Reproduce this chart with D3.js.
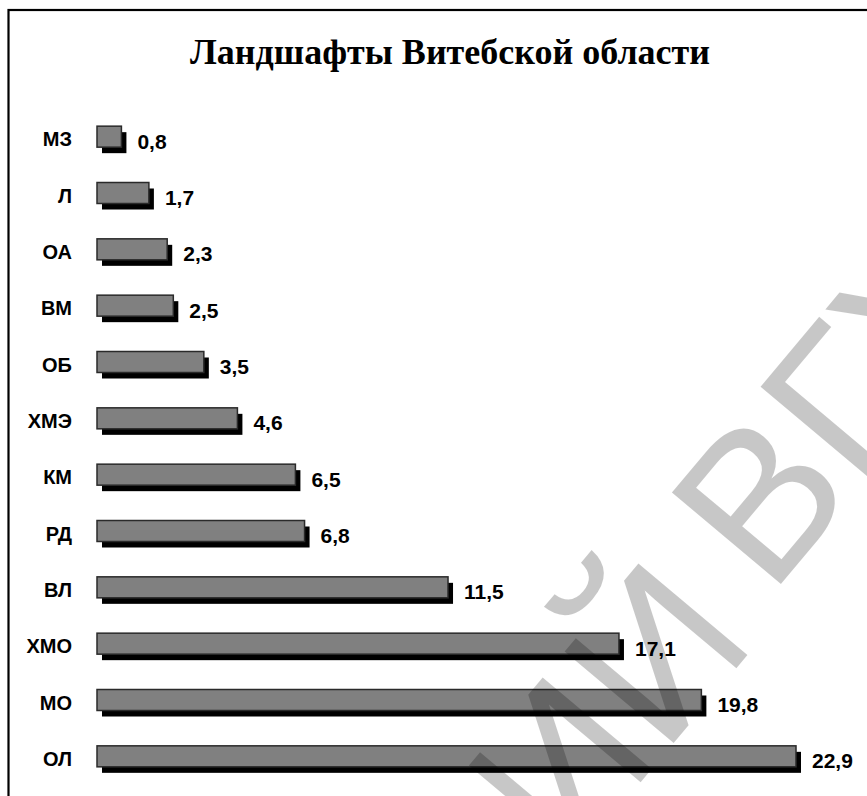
<!DOCTYPE html>
<html>
<head>
<meta charset="utf-8">
<script src="https://cdn.jsdelivr.net/npm/d3@7"></script>
<style>
  body { margin: 0; background: #fff; }
  svg { display: block; }
</style>
</head>
<body>
<script>
// landscape types, top to bottom
const categories = ["МЗ", "Л", "ОА", "ВМ", "ОБ", "ХМЭ", "КМ", "РД", "ВЛ", "ХМО", "МО", "ОЛ"];
const values = [0.8, 1.7, 2.3, 2.5, 3.5, 4.6, 6.5, 6.8, 11.5, 17.1, 19.8, 22.9];
const valueLabels = ["0,8", "1,7", "2,3", "2,5", "3,5", "4,6", "6,5", "6,8", "11,5", "17,1", "19,8", "22,9"];

const width = 867, height = 796;
const shadowDx = 5, shadowDy = 6;

const svg = d3.select("body").append("svg")
    .attr("width", width)
    .attr("height", height);

// frame (only left and top edges fall inside the picture)
svg.append("rect")
    .attr("x", 8.5).attr("y", 10)
    .attr("width", 900).attr("height", 900)
    .attr("fill", "none")
    .attr("stroke", "#000")
    .attr("stroke-width", 2.2);

svg.append("text")
    .attr("x", 450)
    .attr("y", 64)
    .attr("text-anchor", "middle")
    .style("font-family", "'Liberation Serif', 'Times New Roman', serif")
    .style("font-weight", "bold")
    .style("font-size", "36px")
    .text("Ландшафты Витебской области");

const x = d3.scaleLinear().domain([0, 22.9]).range([97, 796]);
const y = d3.scaleBand().domain(categories).range([111, 787]);
const barH = 21;

const rows = svg.selectAll(".row")
    .data(categories.map((c, i) => ({ cat: c, value: values[i], label: valueLabels[i] })))
  .enter().append("g")
    .attr("class", "row")
    .attr("transform", d => "translate(0," + (y(d.cat) + y.bandwidth() / 2) + ")");

// shadow
rows.append("rect")
    .attr("x", x(0) + shadowDx)
    .attr("y", -13 + shadowDy)
    .attr("width", d => x(d.value) - x(0))
    .attr("height", barH)
    .attr("fill", "#000");

rows.append("rect")
    .attr("x", x(0))
    .attr("y", -13)
    .attr("width", d => x(d.value) - x(0))
    .attr("height", barH)
    .attr("fill", "#808080")
    .attr("stroke", "#2a2a2a")
    .attr("stroke-width", 1.5);

rows.append("text")
    .attr("x", 72)
    .attr("dy", "0.36em")
    .attr("text-anchor", "end")
    .style("font-family", "'Liberation Sans', Arial, sans-serif")
    .style("font-weight", "bold")
    .style("font-size", "20px")
    .text(d => d.cat);

rows.append("text")
    .attr("x", d => x(d.value) + 16)
    .attr("dy", "0.45em")
    .style("font-family", "'Liberation Sans', Arial, sans-serif")
    .style("font-weight", "bold")
    .style("font-size", "21px")
    .text(d => d.label);

// watermark
const wm = svg.append("g")
    .attr("transform", "translate(770,597) rotate(-50)")
    .style("font-family", "'Liberation Sans', Arial, sans-serif")
    .style("font-size", "207px")
    .attr("fill", "#000")
    .attr("fill-opacity", 0.22);
wm.append("text").attr("x", 0).text("ВГУ");
wm.append("text").attr("x", -42).attr("y", 20).attr("text-anchor", "end").text("РЕПОЗИТОРИЙ");
</script>
</body>
</html>
